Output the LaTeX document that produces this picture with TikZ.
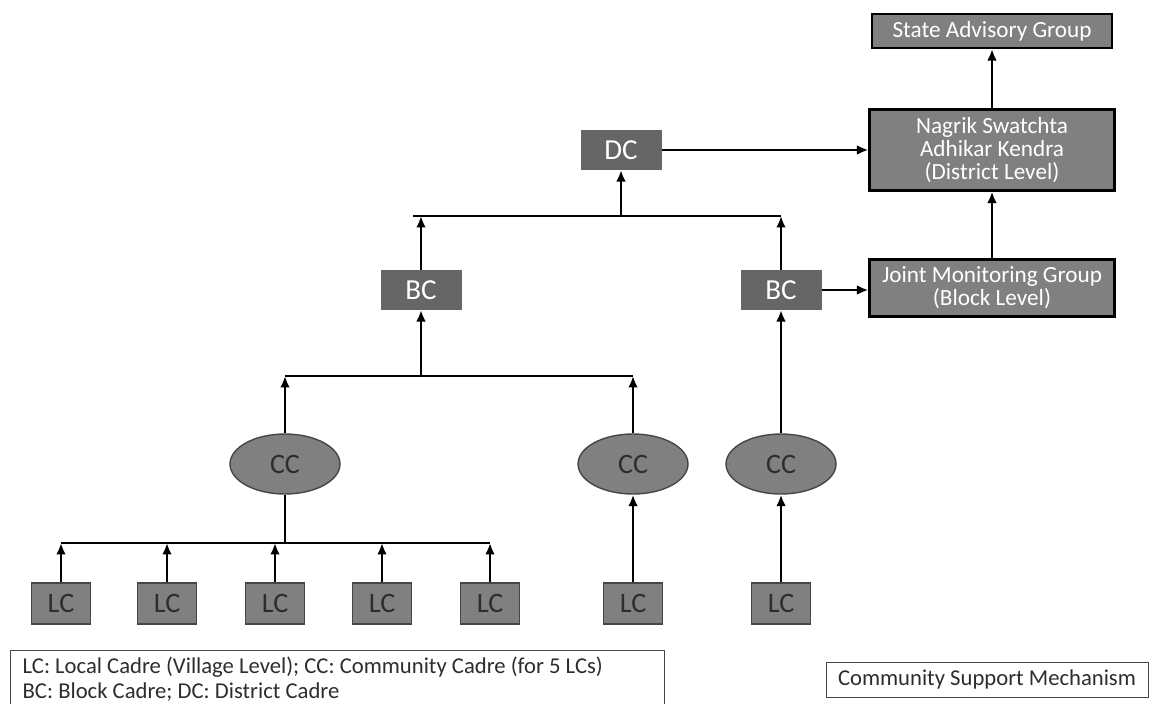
\documentclass[tikz,border=0pt]{standalone}
\usepackage{fontspec}
\setmainfont{Carlito}
\usetikzlibrary{arrows.meta, positioning, shapes.geometric}
\definecolor{colBox}{RGB}{128, 128, 128}
\definecolor{colDark}{RGB}{102, 102, 102}
\definecolor{colEdge}{RGB}{70, 70, 70}
\definecolor{colText}{RGB}{45, 45, 45}

\begin{document}
\begin{tikzpicture}[
  x=0.02cm, y=-0.02cm,
  >={Latex[length=6.5pt, width=5.5pt]},
  link/.style={->, line width=1.3pt},
  bar/.style={line width=1.3pt},
  cadre/.style={fill=colDark, text=white, minimum width=1.62cm,
                minimum height=0.79cm, inner sep=0pt,
                font=\fontsize{16.5}{18}\selectfont},
  lcbox/.style={draw=colEdge, thick, fill=colBox, text=colText,
                minimum width=1.18cm, minimum height=0.82cm, inner sep=0pt,
                font=\fontsize{16}{18}\selectfont},
  ccell/.style={ellipse, draw=colEdge, thick, fill=colBox, text=colText,
                minimum width=2.2cm, minimum height=1.2cm, inner sep=0pt,
                font=\fontsize{16}{18}\selectfont},
  group/.style={draw=black, line width=1.3pt, fill=colBox, text=white,
                align=center, minimum width=4.9cm, inner sep=0pt,
                font=\fontsize{13.2}{13}\selectfont},
  note/.style={draw=colEdge, thin, text=colText,
               font=\fontsize{12.9}{14}\selectfont}
]
\useasboundingbox (0,0) rectangle (1151,703);

% ---------- Groupes de suivi ----------
\node[group, minimum width=4.8cm, minimum height=0.68cm] (sag) at (992,31)
  {State Advisory Group};
\node[group, minimum height=1.62cm] (nsak) at (992,150)
  {Nagrik Swatchta\\Adhikar Kendra\\(District Level)};
\node[group, minimum height=1.14cm] (jmg) at (992,288)
  {Joint Monitoring Group\\(Block Level)};

% ---------- Cadres ----------
\node[cadre] (dc) at (621,150) {DC};
\node[cadre] (bcL) at (421,290) {BC};
\node[cadre] (bcR) at (781,290) {BC};

\node[ccell] (cc1) at (285,464) {CC};
\node[ccell] (cc2) at (633,464) {CC};
\node[ccell] (cc3) at (781,464) {CC};

\foreach \x [count=\i] in {61, 167, 275, 382, 490, 633, 781}
  \node[lcbox] (lc\i) at (\x,603.5) {LC};

% ---------- Barres de regroupement ----------
\coordinate (topY) at (0,216);
\coordinate (midY) at (0,376);
\coordinate (lowY) at (0,543);

\draw[bar] (413,216) -- (bcR.north |- topY);
\draw[bar] (cc1.north |- midY) -- (cc2.north |- midY);
\draw[bar] (lc1.north |- lowY) -- (lc5.north |- lowY);

% ---------- Flèches ----------
\foreach \i in {1,...,5}
  \draw[link] (lc\i.north) -- (lc\i.north |- lowY);
\draw[bar] (cc1.south) -- (cc1.south |- lowY);
\draw[link] (lc6.north) -- (cc2.south);
\draw[link] (lc7.north) -- (cc3.south);

\draw[link] (cc1.north) -- (cc1.north |- midY);
\draw[link] (cc2.north) -- (cc2.north |- midY);
\draw[link] (bcL.south |- midY) -- (bcL.south);
\draw[link] (cc3.north) -- (bcR.south);

\draw[link] (bcL.north) -- (bcL.north |- topY);
\draw[link] (bcR.north) -- (bcR.north |- topY);
\draw[link] (dc.south |- topY) -- (dc.south);

\draw[link] (dc.east) -- (dc.east -| nsak.west);
\draw[link] (bcR.east) -- (bcR.east -| jmg.west);
\draw[link] (jmg.north) -- (nsak.south);
\draw[link] (nsak.north) -- (sag.south);

% ---------- Légendes ----------
\node[note, anchor=north west, align=flush left, text width=12.6cm,
      inner xsep=7pt, inner ysep=4pt] (legend) at (10,650)
  {LC: Local Cadre (Village Level); CC: Community Cadre (for 5 LCs)\\
   BC: Block Cadre; DC: District Cadre};
\node[note, minimum width=6.44cm, minimum height=0.7cm] (title) at (987,679.5)
  {Community Support Mechanism};

\end{tikzpicture}
\end{document}
